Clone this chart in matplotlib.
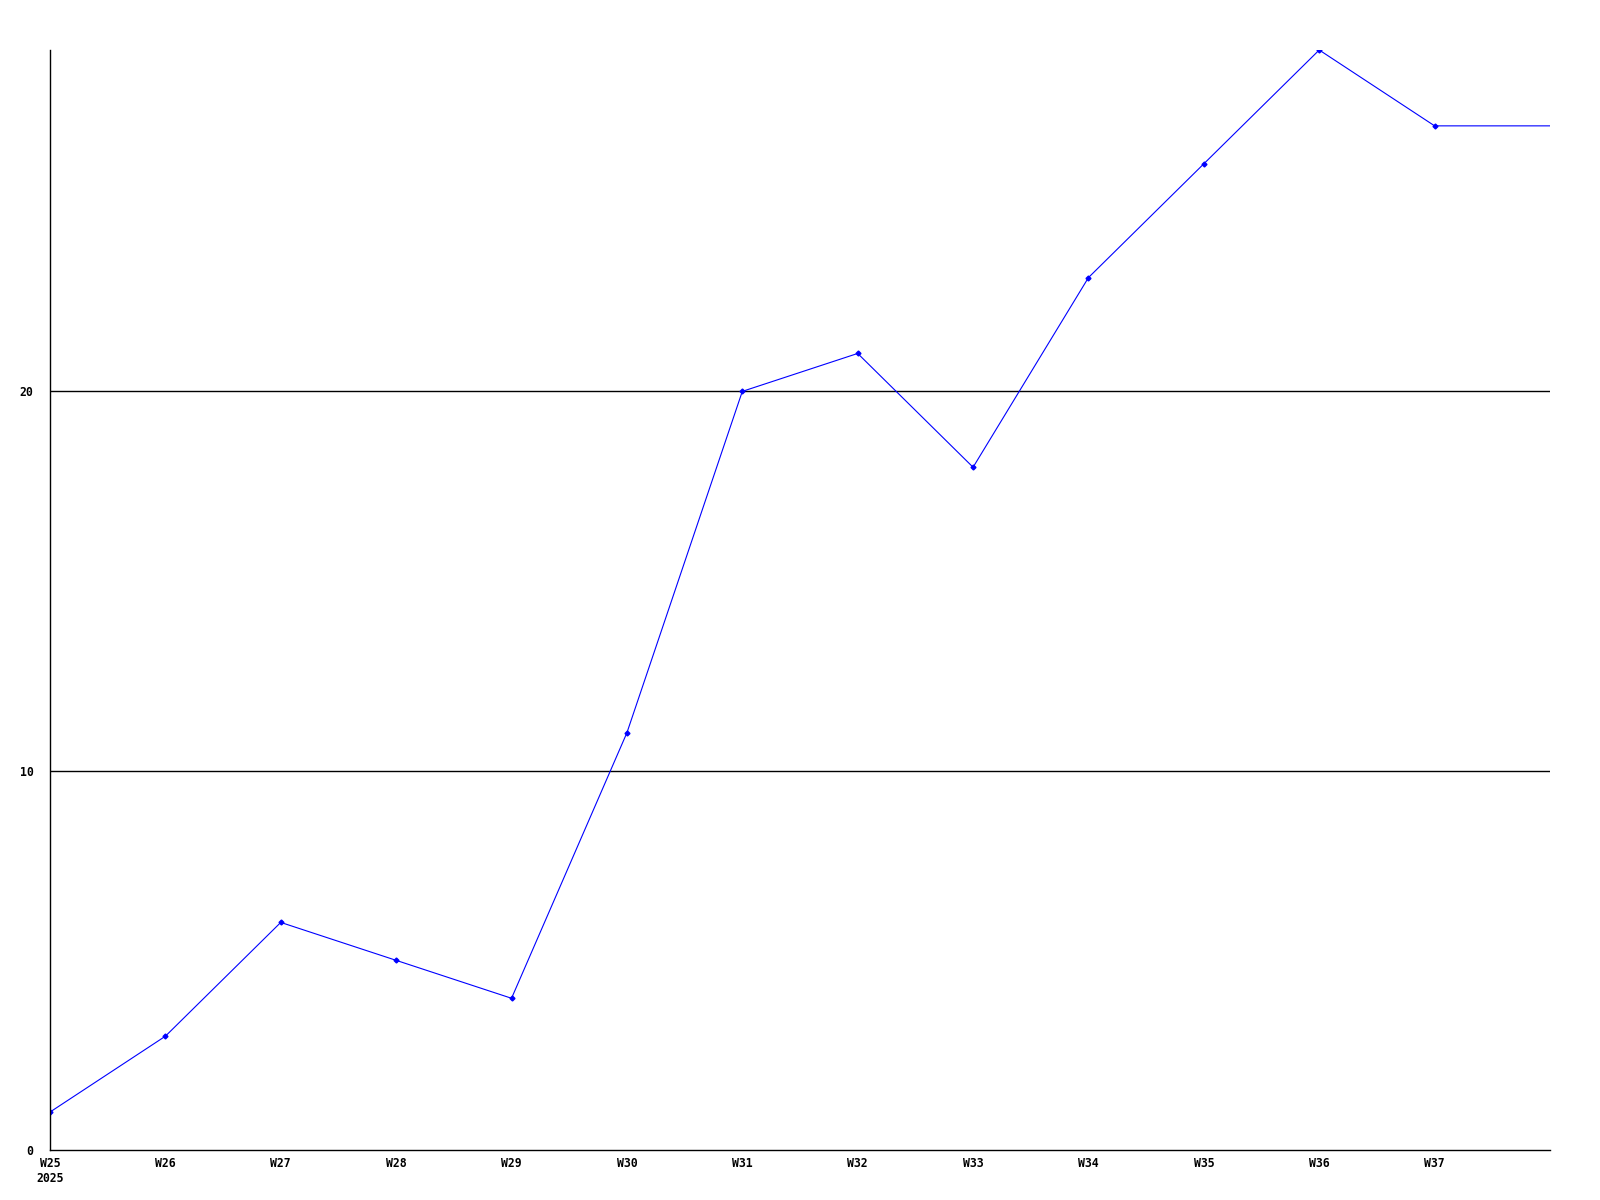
import matplotlib
matplotlib.use("Agg")
import matplotlib.pyplot as plt

weeks = ["W25", "W26", "W27", "W28", "W29", "W30", "W31", "W32", "W33", "W34", "W35", "W36", "W37"]
values = [1, 3, 6, 5, 4, 11, 20, 21, 18, 23, 26, 29, 27]
year_label = "2025"
y_ticks = [0, 10, 20]

fig = plt.figure(figsize=(16, 12), dpi=100)
ax = fig.add_axes([50/1600, 1 - 1150/1200, 1500/1600, 1100/1200])

x = list(range(len(weeks)))
# continuation of last value to right edge
ax.plot(x + [len(weeks)], values + [values[-1]], color="#0000ff", linewidth=0.8)
ax.plot(x, values, linestyle="none", marker="D", markersize=2.5, color="#0000ff")

for v in y_ticks[1:]:
    ax.axhline(v, color="black", linewidth=1.0, zorder=0)

ax.set_xlim(0, len(weeks))
ax.set_ylim(0, max(values))
ax.set_xticks(x)
labels = [w if i > 0 else w + "\n" + year_label for i, w in enumerate(weeks)]
ax.set_xticklabels(labels, fontfamily="DejaVu Sans Mono", fontweight="bold", fontsize=8.3,
                   linespacing=1.25, va="top")
ax.set_yticks(y_ticks)
ax.set_yticklabels([str(v) for v in y_ticks], fontfamily="DejaVu Sans Mono", fontweight="bold", fontsize=8.3)
ax.tick_params(axis="both", length=0)
ax.tick_params(axis="x", pad=5)
ax.tick_params(axis="y", pad=12)
for s in ["top", "right"]:
    ax.spines[s].set_visible(False)
for s in ["left", "bottom"]:
    ax.spines[s].set_linewidth(1.0)

fig.savefig("out.png", dpi=100, facecolor="white")
